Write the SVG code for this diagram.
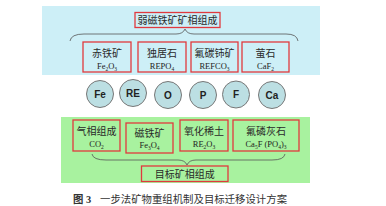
<svg xmlns="http://www.w3.org/2000/svg" width="386" height="206" viewBox="0 0 386 206">
<style>
.bg{stroke:none}
.box{stroke:#e0393e;stroke-width:1.3}
.t1{fill:#cdeff7}
.t2{fill:#a8f29f}
.name{font-family:"Liberation Serif","Noto Sans CJK SC",serif;font-size:10px;fill:#2a2a2a;text-anchor:middle}
.f{font-family:"Liberation Serif","Noto Sans CJK SC",serif;font-size:8.5px;fill:#222;text-anchor:middle}
.s{font-size:5.5px}
.el{fill:#bcdfe3;stroke:#777;stroke-width:1}
.elt{font-family:"Liberation Sans",Arial,sans-serif;font-weight:bold;font-size:10px;fill:#222;text-anchor:middle}
.br{fill:none;stroke:#555;stroke-width:0.8}
</style>
<rect x="0" y="0" width="386" height="206" fill="#ffffff"/>
<rect class="bg t1" x="42" y="6" width="278" height="69"/>
<rect class="bg t2" x="61" y="117" width="249" height="66"/>
<g id="connectors">
<path class="br" d="M70,41 Q71,34 84,34 L176,34 Q183,34 185,29 Q187,34 194,34 L286,34 Q297,34 298,41"/>
<path class="br" d="M92,154 Q93,160 106,160 L178,160 Q185,160 187,165 Q189,160 196,160 L272,160 Q284,160 285,154"/>
</g>
<g id="source">
<rect class="box t1" x="135" y="12.5" width="85" height="15" fill="#e3f6fa"/>
<text class="name" x="177.5" y="24">弱磁铁矿矿相组成</text>
</g>
<g id="hematite">
<rect class="box t1" x="83" y="42" width="48" height="30"/>
<text class="name" x="107" y="57">赤铁矿</text>
<text class="f" x="107" y="69">Fe<tspan class="s" dy="1.5">2</tspan><tspan dy="-1.5">O</tspan><tspan class="s" dy="1.5">3</tspan></text>
</g>
<g id="monazite">
<rect class="box t1" x="138" y="42" width="48" height="30"/>
<text class="name" x="162" y="57">独居石</text>
<text class="f" x="162" y="69">REPO<tspan class="s" dy="1.5">4</tspan></text>
</g>
<g id="bastnaesite">
<rect class="box t1" x="191" y="42" width="47" height="30"/>
<text class="name" x="214.5" y="57">氟碳铈矿</text>
<text class="f" x="214.5" y="69">REFCO<tspan class="s" dy="1.5">3</tspan></text>
</g>
<g id="fluorite">
<rect class="box t1" x="242" y="42" width="47" height="30"/>
<text class="name" x="265.5" y="57">萤石</text>
<text class="f" x="265.5" y="69">CaF<tspan class="s" dy="1.5">2</tspan></text>
</g>
<g id="Fe"><circle class="el" cx="100" cy="94" r="13.5"/><text class="elt" x="100" y="97.5">Fe</text></g>
<g id="RE"><circle class="el" cx="133" cy="93" r="13.5"/><text class="elt" x="133" y="96.5">RE</text></g>
<g id="O"><circle class="el" cx="168" cy="95" r="13.5"/><text class="elt" x="168" y="98.5">O</text></g>
<g id="P"><circle class="el" cx="203" cy="95" r="13.5"/><text class="elt" x="203" y="98.5">P</text></g>
<g id="F"><circle class="el" cx="236" cy="94.5" r="13.5"/><text class="elt" x="236" y="98">F</text></g>
<g id="Ca"><circle class="el" cx="272" cy="95" r="13.5"/><text class="elt" x="272" y="98.5">Ca</text></g>
<g id="gas">
<rect class="box t2" x="73" y="120" width="47" height="31"/>
<text class="name" x="96.5" y="135">气相组成</text>
<text class="f" x="96.5" y="147">CO<tspan class="s" dy="1.5">2</tspan></text>
</g>
<g id="magnetite">
<rect class="box t2" x="126" y="123" width="47" height="30"/>
<text class="name" x="149.5" y="137">磁铁矿</text>
<text class="f" x="149.5" y="148">Fe<tspan class="s" dy="1.5">3</tspan><tspan dy="-1.5">O</tspan><tspan class="s" dy="1.5">4</tspan></text>
</g>
<g id="reoxide">
<rect class="box t2" x="180" y="120" width="48" height="31"/>
<text class="name" x="204" y="135">氧化稀土</text>
<text class="f" x="204" y="147">RE<tspan class="s" dy="1.5">2</tspan><tspan dy="-1.5">O</tspan><tspan class="s" dy="1.5">3</tspan></text>
</g>
<g id="apatite">
<rect class="box t2" x="233" y="120" width="66" height="31"/>
<text class="name" x="266" y="135">氟磷灰石</text>
<text class="f" x="266" y="147">Ca<tspan class="s" dy="1.5">5</tspan><tspan dy="-1.5">F (PO</tspan><tspan class="s" dy="1.5">4</tspan><tspan dy="-1.5">)</tspan><tspan class="s" dy="1.5">3</tspan></text>
</g>
<g id="target">
<rect class="box t2" x="141.5" y="166" width="86.5" height="15.5"/>
<text class="name" x="184.75" y="177.5">目标矿相组成</text>
</g>
<text x="73" y="203" font-family="'Liberation Serif','Noto Sans CJK SC',serif" font-size="10.4" fill="#333"><tspan font-weight="bold">图 3</tspan><tspan x="100">一步法矿物重组机制及目标迁移设计方案</tspan></text>
</svg>
